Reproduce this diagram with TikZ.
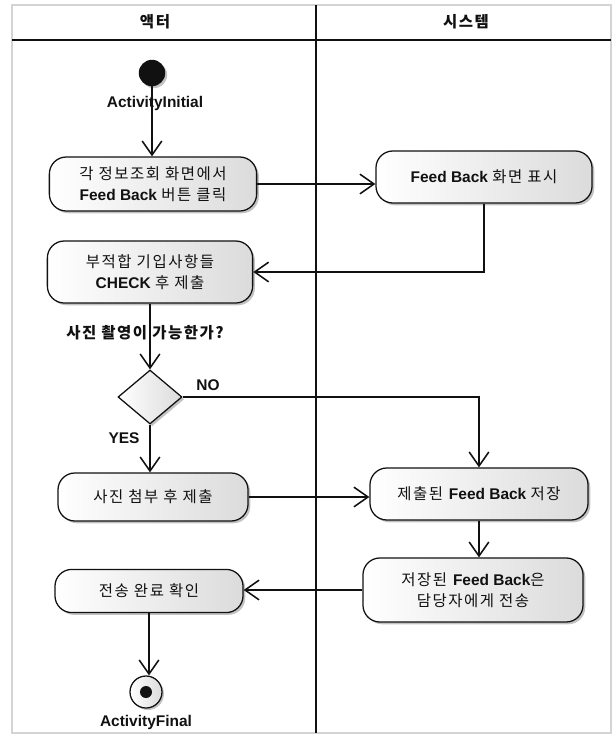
\documentclass[tikz,border=0pt]{standalone}
\usepackage{fontspec}
\setmainfont{Liberation Sans}
\newfontfamily\kr{Noto Sans CJK KR}[LetterSpace=10]
\usetikzlibrary{shapes.geometric, arrows.meta, positioning, calc, shadows}
\definecolor{tinta}{HTML}{111111}
\definecolor{marco}{HTML}{D4D4D4}
\definecolor{sombra}{HTML}{9A9A9A}
\tikzset{
  accion/.style={rectangle, rounded corners=12pt, draw=tinta, line width=0.9pt,
                 left color=white, right color=black!14, align=center, text=tinta,
                 font=\fontsize{11}{15}\selectfont,
                 drop shadow={shadow xshift=1.6pt, shadow yshift=-1.6pt, fill=sombra, opacity=0.6}},
  decision/.style={diamond, draw=tinta, line width=0.9pt, left color=white, right color=black!14,
                   minimum width=1.6cm, minimum height=1.35cm, inner sep=0pt,
                   drop shadow={shadow xshift=1.6pt, shadow yshift=-1.6pt, fill=sombra, opacity=0.6}},
  arrow/.style={line width=1.1pt, color=tinta, -{Straight Barb[length=10pt, width=14pt, line width=1.1pt]}},
  linea/.style={line width=1.1pt, color=tinta},
  etiqueta/.style={font=\fontsize{11}{12}\selectfont\bfseries, text=tinta, inner sep=1pt},
  carril/.style={line width=1.4pt, color=tinta}
}

\begin{document}
\begin{tikzpicture}[x=0.025cm, y=-0.025cm]
  \useasboundingbox (0,0) rectangle (616,738);
  % marco y carriles
  \draw [marco, line width=0.8pt] (12,5) rectangle (611,733);
  \draw [carril] (12,40) -- (611,40);
  \draw [carril] (316,5) -- (316,733);
  \node (cactor) [etiqueta] at (155,22) {\kr\bfseries 액터};
  \node (csist) [etiqueta] at (466,22) {\kr\bfseries 시스템};

  % inicio
  \node (ini) [circle, fill=tinta, minimum size=0.66cm, inner sep=0pt,
               drop shadow={shadow xshift=1.4pt, shadow yshift=-1.4pt, fill=sombra, opacity=0.6}] at (152,73) {};
  \node (lini) [etiqueta] at (155,103) {ActivityInitial};

  % acciones
  \node (n1) [accion, minimum width=5.18cm, minimum height=1.35cm] at (153,184)
        {{\kr 각 정보조회 화면에서}\\\textbf{Feed Back} {\kr 버튼 클릭}};
  \node (n2) [accion, minimum width=5.4cm, minimum height=1.3cm] at (484,177)
        {\textbf{Feed Back} {\kr 화면 표시}};
  \node (n3) [accion, minimum width=5.13cm, minimum height=1.55cm] at (150,272)
        {{\kr 부적합 기입사항들}\\\textbf{CHECK} {\kr 후 제출}};
  \node (dec) [decision] at (150,397) {};
  \node (n4) [accion, minimum width=4.75cm, minimum height=1.2cm] at (153,497)
        {\kr 사진 첨부 후 제출};
  \node (n5) [accion, minimum width=5.45cm, minimum height=1.3cm] at (479,494)
        {{\kr 제출된} \textbf{Feed Back} {\kr 저장}};
  \node (n6) [accion, minimum width=5.5cm, minimum height=1.6cm] at (473,590)
        {{\kr 저장된} \textbf{Feed Back}{\kr 은}\\{\kr 담당자에게 전송}};
  \node (n7) [accion, minimum width=4.7cm, minimum height=1.08cm] at (149,591)
        {\kr 전송 완료 확인};

  % fin
  \node (fin) [circle, draw=tinta, line width=0.9pt, left color=white, right color=black!14,
               minimum size=0.8cm, inner sep=0pt,
               drop shadow={shadow xshift=1.4pt, shadow yshift=-1.4pt, fill=sombra, opacity=0.6}] at (146,692) {};
  \node (finp) [circle, fill=tinta, minimum size=0.3cm, inner sep=0pt] at (fin.center) {};
  \node (lfin) [etiqueta] at (146,722) {ActivityFinal};

  % etiquetas de la decision
  \node (preg) [etiqueta] at (145,333) {\kr\bfseries 사진 촬영이 가능한가?};
  \node (lno) [etiqueta] at (208,385) {NO};
  \node (lsi) [etiqueta] at (124,438) {YES};

  % flujos
  \draw [arrow] (ini) -- (n1.north -| ini);
  \draw [arrow] (n1.east) -- (n1.east -| n2.west);
  \draw [arrow] (n2.south) |- (n3.east);
  \draw [arrow] (n3.south) -- (dec.north);
  \draw [arrow] (dec.east) -| (n5.north);
  \draw [arrow] (dec.south) -- (n4.north -| dec.south);
  \draw [arrow] (n4.east) -- (n4.east -| n5.west);
  \draw [arrow] (n5.south) -- (n5.south |- n6.north);
  \draw [arrow] (n6.west) -- (n6.west -| n7.east);
  \draw [arrow] (n7.south) -- (fin.north -| n7.south);
\end{tikzpicture}
\end{document}
